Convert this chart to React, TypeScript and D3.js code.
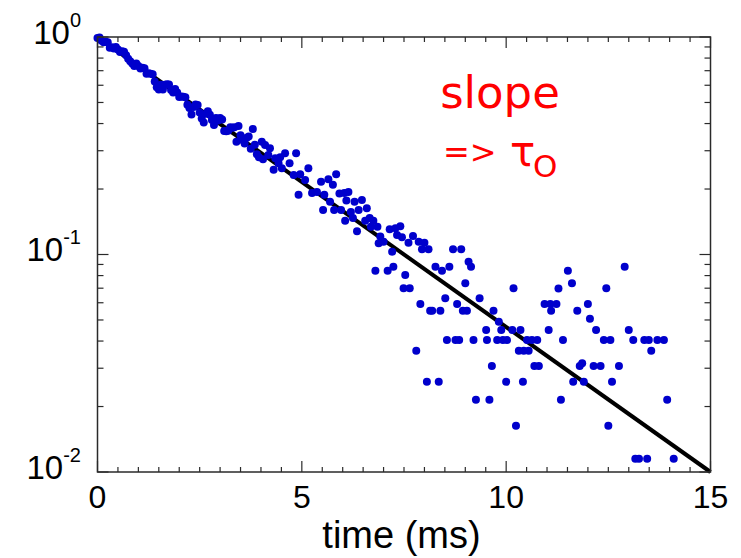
import React from 'react';
import * as d3 from 'd3';

// decay data, time in ms, normalised signal
const time = [
  0.00, 0.05, 0.10, 0.15, 0.20, 0.25, 0.30, 0.35, 0.40, 0.45,
  0.50, 0.55, 0.60, 0.65, 0.70, 0.75, 0.80, 0.85, 0.90, 0.95,
  1.00, 1.05, 1.10, 1.15, 1.20, 1.25, 1.30, 1.35, 1.40, 1.45,
  1.50, 1.55, 1.60, 1.65, 1.70, 1.75, 1.80, 1.85, 1.90, 1.95,
  2.00, 2.05, 2.10, 2.15, 2.20, 2.25, 2.30, 2.35, 2.40, 2.45,
  2.50, 2.55, 2.60, 2.65, 2.70, 2.75, 2.80, 2.85, 2.90, 2.95,
  3.00, 3.05, 3.10, 3.15, 3.20, 3.25, 3.30, 3.35, 3.40, 3.45,
  3.50, 3.55, 3.60, 3.65, 3.70, 3.75, 3.80, 3.85, 3.90, 3.95,
  4.02, 4.05, 4.10, 4.18, 4.22, 4.31, 4.35, 4.43, 4.47, 4.51,
  4.59, 4.70, 4.80, 4.86, 4.92, 4.96, 5.08, 5.16, 5.25, 5.37,
  5.47, 5.52, 5.55, 5.65, 5.69, 5.76, 5.79, 5.84, 5.92, 5.96,
  6.04, 6.06, 6.09, 6.14, 6.20, 6.25, 6.29, 6.35, 6.39, 6.47,
  6.55, 6.59, 6.66, 6.69, 6.75, 6.80, 6.85, 6.88, 6.92, 7.00,
  7.10, 7.15, 7.21, 7.24, 7.29, 7.33, 7.41, 7.45, 7.49, 7.53,
  7.61, 7.64, 7.72, 7.80, 7.86, 7.90, 7.94, 8.00, 8.06, 8.10,
  8.14, 8.19, 8.27, 8.35, 8.39, 8.43, 8.51,
  8.55, 8.61, 8.70, 8.76, 8.80, 8.85, 8.90, 8.94, 9.00, 9.04,
  9.08, 9.14, 9.20, 9.26, 9.35, 9.51, 9.53, 9.59, 9.65, 9.69,
  9.78, 9.82, 9.88, 9.92, 10.00, 10.02, 10.15, 10.18, 10.24, 10.31,
  10.35, 10.41, 10.43, 10.51, 10.55, 10.63, 10.69, 10.76, 10.80, 10.94,
  11.04, 11.08, 11.10, 11.23, 11.28, 11.34, 11.39, 11.51, 11.61, 11.64,
  11.74, 11.80, 11.86, 11.90, 12.00, 12.05, 12.14, 12.20, 12.31, 12.39,
  12.45, 12.50, 12.55, 12.59, 12.76, 12.90, 13.00, 13.11, 13.16, 13.25,
  13.38, 13.45, 13.49, 13.55, 13.70, 13.86, 13.94, 14.10,
];

const signal = [
  0.990, 0.995, 0.960, 0.945, 0.950, 0.945, 0.893, 0.898, 0.885, 0.899,
  0.876, 0.854, 0.859, 0.855, 0.824, 0.795, 0.774, 0.755, 0.735, 0.755,
  0.736, 0.717, 0.722, 0.718, 0.677, 0.682, 0.678, 0.675, 0.624, 0.588,
  0.574, 0.603, 0.574, 0.603, 0.606, 0.604, 0.570, 0.555, 0.577, 0.556,
  0.530, 0.533, 0.531, 0.528, 0.488, 0.471, 0.440, 0.477, 0.489, 0.487,
  0.450, 0.422, 0.405, 0.444, 0.456, 0.439, 0.415, 0.394, 0.424, 0.413,
  0.424, 0.418, 0.370, 0.369, 0.371, 0.385, 0.383, 0.385, 0.330, 0.390,
  0.353, 0.336, 0.324, 0.344, 0.349, 0.306, 0.378, 0.320, 0.289, 0.280,
  0.330, 0.274, 0.319, 0.287, 0.308, 0.245, 0.277, 0.263, 0.280, 0.249,
  0.292, 0.263, 0.232, 0.292, 0.188, 0.234, 0.220, 0.249, 0.192, 0.194,
  0.216, 0.160, 0.188, 0.222, 0.175, 0.209, 0.160, 0.234, 0.191, 0.160,
  0.192, 0.143, 0.177, 0.194, 0.157, 0.147, 0.175, 0.128, 0.160, 0.178,
  0.143, 0.163, 0.147, 0.134, 0.143, 0.0842, 0.134, 0.1126, 0.121, 0.1145,
  0.0842, 0.1305, 0.103, 0.0879, 0.132, 0.123, 0.135, 0.120, 0.0699, 0.0805,
  0.1133, 0.0699, 0.1216, 0.0361, 0.1145, 0.0592, 0.1057, 0.1133, 0.0260, 0.1057,
  0.0551, 0.0551, 0.0879, 0.0260, 0.0551, 0.0842, 0.0629,
  0.0404, 0.0879, 0.1057, 0.0404, 0.0592, 0.0404, 0.1057, 0.0551, 0.0737, 0.0551,
  0.0927, 0.0879, 0.0404, 0.0215, 0.0629, 0.0450, 0.0404, 0.0215, 0.0307, 0.0551,
  0.0404, 0.0491, 0.0450, 0.0404, 0.0260, 0.0404, 0.0450, 0.0699, 0.0163, 0.0361,
  0.0450, 0.0260, 0.0361, 0.0404, 0.0361, 0.0404, 0.0307, 0.0404, 0.0307, 0.0592,
  0.0450, 0.0592, 0.0551, 0.0592, 0.0697, 0.0215, 0.0404, 0.0842, 0.0737, 0.0260,
  0.0551, 0.0307, 0.0316, 0.0260, 0.0592, 0.0507, 0.0307, 0.0450, 0.0307, 0.0404,
  0.0699, 0.0163, 0.0404, 0.0260, 0.0307, 0.0879, 0.0450, 0.0404, 0.0115, 0.0115,
  0.0404, 0.0115, 0.0404, 0.0361, 0.0404, 0.0404, 0.0215, 0.0115,
];

// single exponential fit drawn as straight line on log axis
const fitTime = [0, 15];
const fitSignal = [1, 0.01];

const xTicks = [0, 5, 10, 15];
const xTickLabels = ['0', '5', '10', '15'];
const yTicks = [1, 0.1, 0.01];
const yTickExp = ['0', '-1', '-2'];

export default function App() {
  const left = 97.5, right = 710.5, top = 37, bottom = 472;

  const x = d3.scaleLinear().domain([0, 15]).range([left, right]);
  const y = d3.scaleLog().domain([0.01, 1]).range([bottom, top]);

  const fitLine = d3.line<number>()
    .x((d, i) => x(fitTime[i]))
    .y((d) => y(d));

  const xMinor = d3.range(0, 15.001, 0.5);
  const yAll = y.ticks();

  const axisColor = '#2a2a2a';

  return (
    <svg width={741} height={558} style={{ position: 'absolute', left: 0, top: 0, background: '#fff' }}>
      {/* fit */}
      <path d={fitLine(fitSignal) || ''} fill="none" stroke="#000" strokeWidth={4} />

      {/* data */}
      <g fill="#0000cc">
        {time.map((t, i) => (
          <circle key={i} cx={x(t)} cy={y(signal[i])} r={4} />
        ))}
      </g>

      {/* frame */}
      <rect x={left} y={top} width={right - left} height={bottom - top}
        fill="none" stroke={axisColor} strokeWidth={1.5} />

      {/* x ticks, bottom and top, pointing in */}
      <g stroke={axisColor} strokeWidth={1.2}>
        {xMinor.map((t, i) => {
          const len = xTicks.includes(t) ? 11 : 5;
          return (
            <g key={i}>
              <line x1={x(t)} x2={x(t)} y1={bottom} y2={bottom - len} />
              <line x1={x(t)} x2={x(t)} y1={top} y2={top + len} />
            </g>
          );
        })}
        {yAll.map((v, i) => {
          const len = yTicks.includes(v) ? 11 : 6;
          return (
            <g key={'y' + i}>
              <line x1={left} x2={left + len} y1={y(v)} y2={y(v)} />
              <line x1={right} x2={right - len} y1={y(v)} y2={y(v)} />
            </g>
          );
        })}
      </g>

      {/* tick labels */}
      <g fontFamily="'Liberation Sans', Arial, sans-serif" fill="#000">
        {xTicks.map((t, i) => (
          <text key={i} x={x(t)} y={508} fontSize={32} textAnchor="middle">{xTickLabels[i]}</text>
        ))}
        {yTicks.map((v, i) => (
          <text key={'l' + i} x={81} y={y(v) + 6.5} fontSize={33} textAnchor="end">
            10<tspan dy={-17} fontSize={20}>{yTickExp[i]}</tspan>
          </text>
        ))}
        <text x={401.5} y={548} fontSize={38} textAnchor="middle">time (ms)</text>
      </g>

      {/* annotation */}
      <g fill="#ff0000" fontFamily="'DejaVu Sans', Verdana, sans-serif">
        <text x={500} y={108} fontSize={45} textAnchor="middle">slope</text>
        <text x={443} y={163} fontSize={32}>=&gt;</text>
        <text x={510} y={166} fontSize={42}>τ</text>
        <text x={533} y={177} fontSize={31}>O</text>
      </g>
    </svg>
  );
}
